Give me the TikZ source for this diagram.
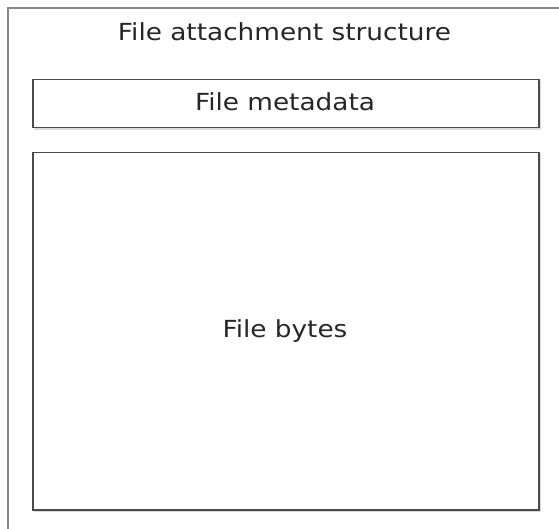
\documentclass[tikz,border=0pt]{standalone}
\usepackage{fontspec}
\setmainfont{DejaVu Sans}
\definecolor{outerline}{HTML}{888888}
\definecolor{innerline}{HTML}{4A4A4A}
\definecolor{shadowgray}{HTML}{DADADA}
\begin{document}
\begin{tikzpicture}[x=1pt,y=-1pt,
  lbl/.style={font=\fontsize{23.5}{28}\selectfont, text=black!85, inner sep=0pt, anchor=base},
  box/.style={draw=innerline, line width=1.5pt}]
\useasboundingbox (0,0) rectangle (559,529);
% outer structure (cropped at right and bottom)
\draw[outerline, line width=2pt] (8,529) -- (8,8) -- (559,8);
\node[lbl] (title) at (284.5,41) {\scalebox{1.12}[1]{File attachment structure}};
% shadows
\draw[shadowgray, line width=1.5pt] (34,129) -- (540,129) -- (540,81);
\draw[shadowgray, line width=1.5pt] (34,511) -- (540,511) -- (540,154);
% metadata box
\node[box, minimum width=506pt, minimum height=48pt, anchor=north west, inner sep=0pt] (meta) at (32,79) {};
\node[lbl] (metatext) at (285,111) {\scalebox{1.12}[1]{File metadata}};
% bytes box
\node[box, minimum width=506pt, minimum height=357pt, anchor=north west, inner sep=0pt] (bytes) at (32,152) {};
\node[lbl] (bytestext) at (285,337) {\scalebox{1.12}[1]{File bytes}};
\end{tikzpicture}
\end{document}
